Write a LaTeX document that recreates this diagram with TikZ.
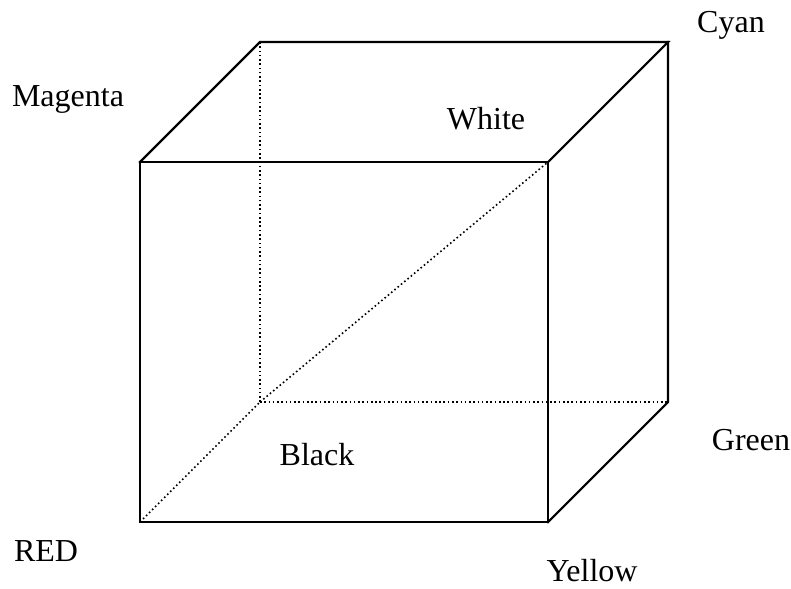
\documentclass[tikz,border=0pt]{standalone}
\usepackage{fontspec}
\setmainfont{Liberation Serif}
\begin{document}
\begin{tikzpicture}[x=0.75pt,y=-0.75pt,
  edge/.style={line width=1.6pt,line cap=rect},
  hidden/.style={line width=1.2pt,dash pattern=on 1.2pt off 2pt},
  lbl/.style={font=\fontsize{24}{28}\selectfont,inner sep=0pt,anchor=base}]
\useasboundingbox (0,0) rectangle (791,588);
% front face
\coordinate (R) at (140,522);
\coordinate (Y) at (548,522);
\coordinate (M) at (140,162);
\coordinate (W) at (548,162);
% back face
\coordinate (K) at (260,402);
\coordinate (G) at (668,402);
\coordinate (B) at (260,42);
\coordinate (C) at (668,42);
% hidden edges
\draw[hidden] (R) -- (K);
\draw[hidden] (K) -- (B);
\draw[hidden] (K) -- (G);
\draw[hidden] (K) -- (W);
% visible edges
\draw[edge] (R) -- (Y) -- (W) -- (M) -- cycle;
\draw[edge] (M) -- (B) -- (C) -- (W);
\draw[edge] (C) -- (G) -- (Y);
% labels
\node[lbl] (lc) at (731,33) {Cyan};
\node[lbl] (lm) at (68,107) {Magenta};
\node[lbl] (lw) at (486,130) {White};
\node[lbl] (lg) at (751,450) {Green};
\node[lbl] (lk) at (317,465) {Black};
\node[lbl] (lr) at (46,561) {RED};
\node[lbl] (ly) at (592,581) {Yellow};
\end{tikzpicture}
\end{document}
